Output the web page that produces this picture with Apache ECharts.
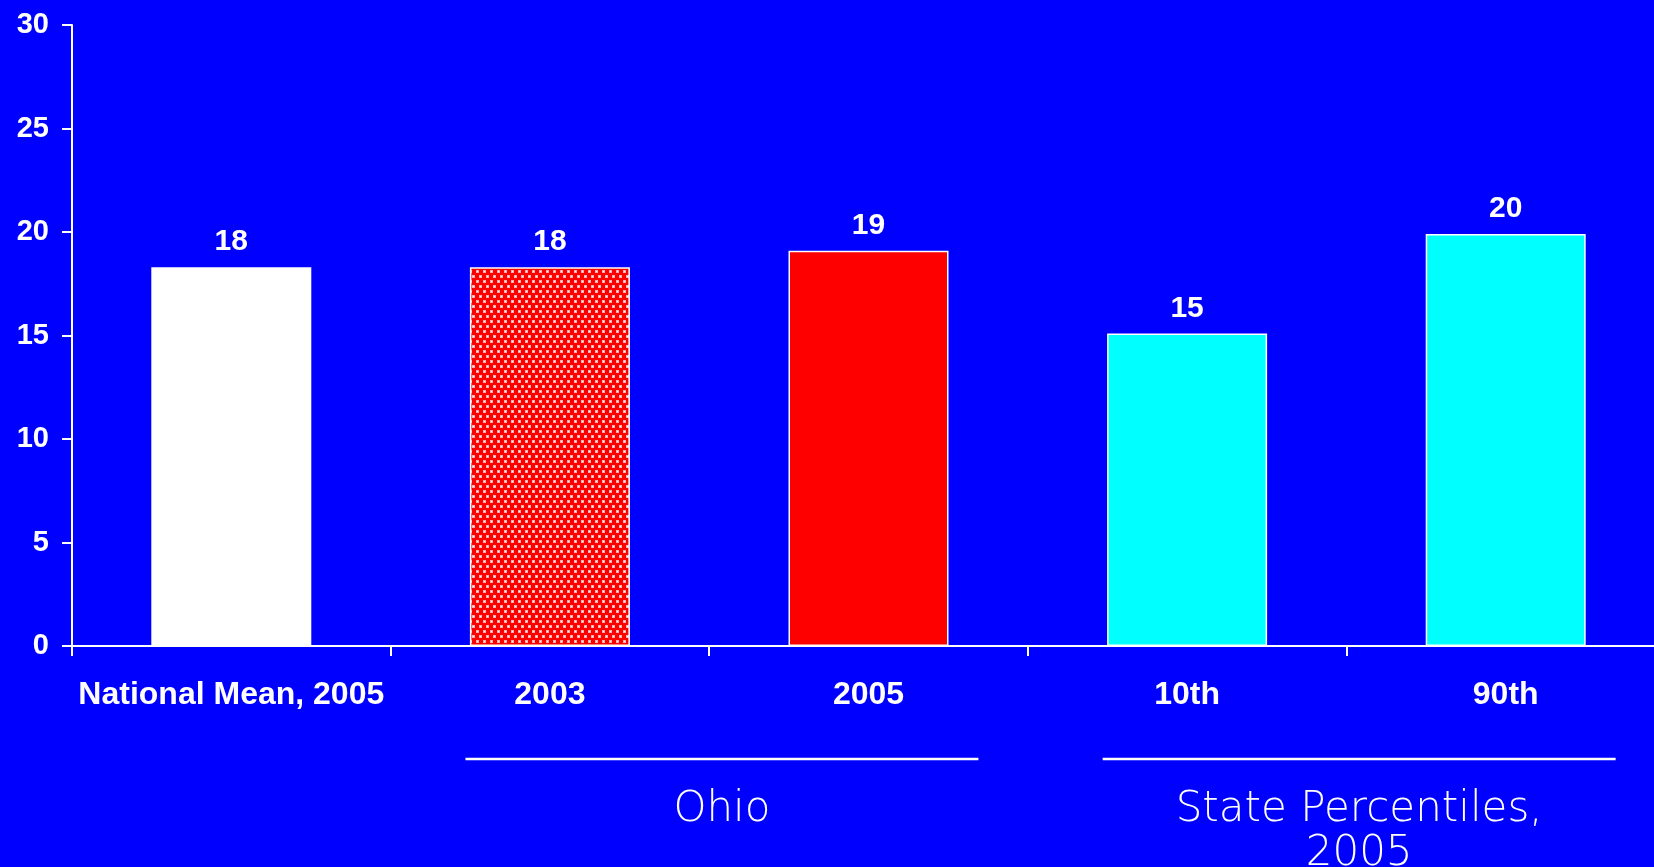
<!DOCTYPE html>
<html>
<head>
<meta charset="utf-8">
<script src="https://cdn.jsdelivr.net/npm/echarts@6/dist/echarts.min.js"></script>
<style>
html,body{margin:0;padding:0;background:#0000ff;overflow:hidden;}
#chart{width:1680px;height:867px;}
</style>
</head>
<body>
<div id="chart"></div>
<script>
const categories = ['National Mean, 2005', '2003', '2005', '10th', '90th'];
const values = [18.3, 18.3, 19.1, 15.1, 19.9];
const barKinds = ['white', 'dotted', 'red', 'cyan', 'cyan'];
const yTicks = [0, 5, 10, 15, 20, 25, 30];
const groups = [
  { label: 'Ohio', first: 1, last: 2 },
  { label: 'State Percentiles,\n2005', first: 3, last: 4 }
];

// dotted red pattern
function makePattern() {
  const c = document.createElement('canvas');
  c.width = 7; c.height = 10;
  const g = c.getContext('2d');
  g.fillStyle = '#ff0000';
  g.fillRect(0, 0, 7, 10);
  g.fillStyle = '#ffb0b0';
  g.fillRect(0, 0, 3, 3);
  g.fillRect(3, 5, 3, 3);
  g.fillStyle = '#ffffff';
  g.fillRect(1, 1, 1, 1);
  g.fillRect(4, 6, 1, 1);
  return c;
}
const pattern = makePattern();
const fills = {
  white: '#ffffff',
  dotted: { image: pattern, repeat: 'repeat' },
  red: '#ff0000',
  cyan: '#00ffff'
};

const chart = echarts.init(document.getElementById('chart'), null, { renderer: 'canvas' });
const gridLeft = 72, gridTop = 25, gridWidth = 1593, gridHeight = 621;

chart.setOption({
  backgroundColor: '#0000ff',
  animation: false,
  grid: { left: gridLeft, top: gridTop, width: gridWidth, height: gridHeight, containLabel: false },
  xAxis: {
    type: 'category',
    data: categories,
    boundaryGap: true,
    axisLine: { lineStyle: { color: '#ffffff', width: 2 } },
    axisTick: { show: true, length: 10, lineStyle: { color: '#ffffff', width: 2 } },
    axisLabel: {
      color: '#ffffff', fontFamily: '"Liberation Sans", Arial, sans-serif', fontWeight: 'bold',
      fontSize: 32, margin: 33, interval: 0
    },
    splitLine: { show: false }
  },
  yAxis: {
    type: 'value',
    min: yTicks[0], max: yTicks[yTicks.length - 1], interval: 5,
    axisLine: { show: true, lineStyle: { color: '#ffffff', width: 2 } },
    axisTick: { show: true, length: 10, lineStyle: { color: '#ffffff', width: 2 } },
    axisLabel: {
      color: '#ffffff', fontFamily: '"Liberation Sans", Arial, sans-serif', fontWeight: 'bold',
      fontSize: 29, margin: 23
    },
    splitLine: { show: false }
  },
  series: [{
    type: 'bar',
    barWidth: 160,
    data: values.map((v, i) => ({
      value: v,
      itemStyle: {
        color: fills[barKinds[i]],
        borderColor: '#ffffff',
        borderWidth: barKinds[i] === 'white' ? 0 : 1.5
      }
    })),
    label: {
      show: true, position: 'top', distance: 10,
      color: '#ffffff', fontFamily: '"Liberation Sans", Arial, sans-serif', fontWeight: 'bold',
      fontSize: 30,
      formatter: p => Math.round(p.value).toString()
    }
  }]
});

// group brackets below the axis, positioned from the category scale
const halfBand = gridWidth / categories.length / 2;
const graphics = [];
groups.forEach(gr => {
  const x1 = chart.convertToPixel({ xAxisIndex: 0 }, gr.first) - halfBand * 0.53;
  const x2 = chart.convertToPixel({ xAxisIndex: 0 }, gr.last) + halfBand * 0.69;
  const lineY = 759;
  graphics.push({
    type: 'line',
    shape: { x1: x1, y1: lineY, x2: x2, y2: lineY },
    style: { stroke: '#ffffff', lineWidth: 2.5 }
  });
  graphics.push({
    type: 'text',
    x: (x1 + x2) / 2,
    y: 788,
    style: {
      text: gr.label,
      fill: '#ffffff',
      font: '200 42px "DejaVu Sans", "Open Sans", sans-serif',
      align: 'center',
      verticalAlign: 'top',
      lineHeight: 44
    }
  });
});
chart.setOption({ graphic: graphics });
</script>
</body>
</html>
